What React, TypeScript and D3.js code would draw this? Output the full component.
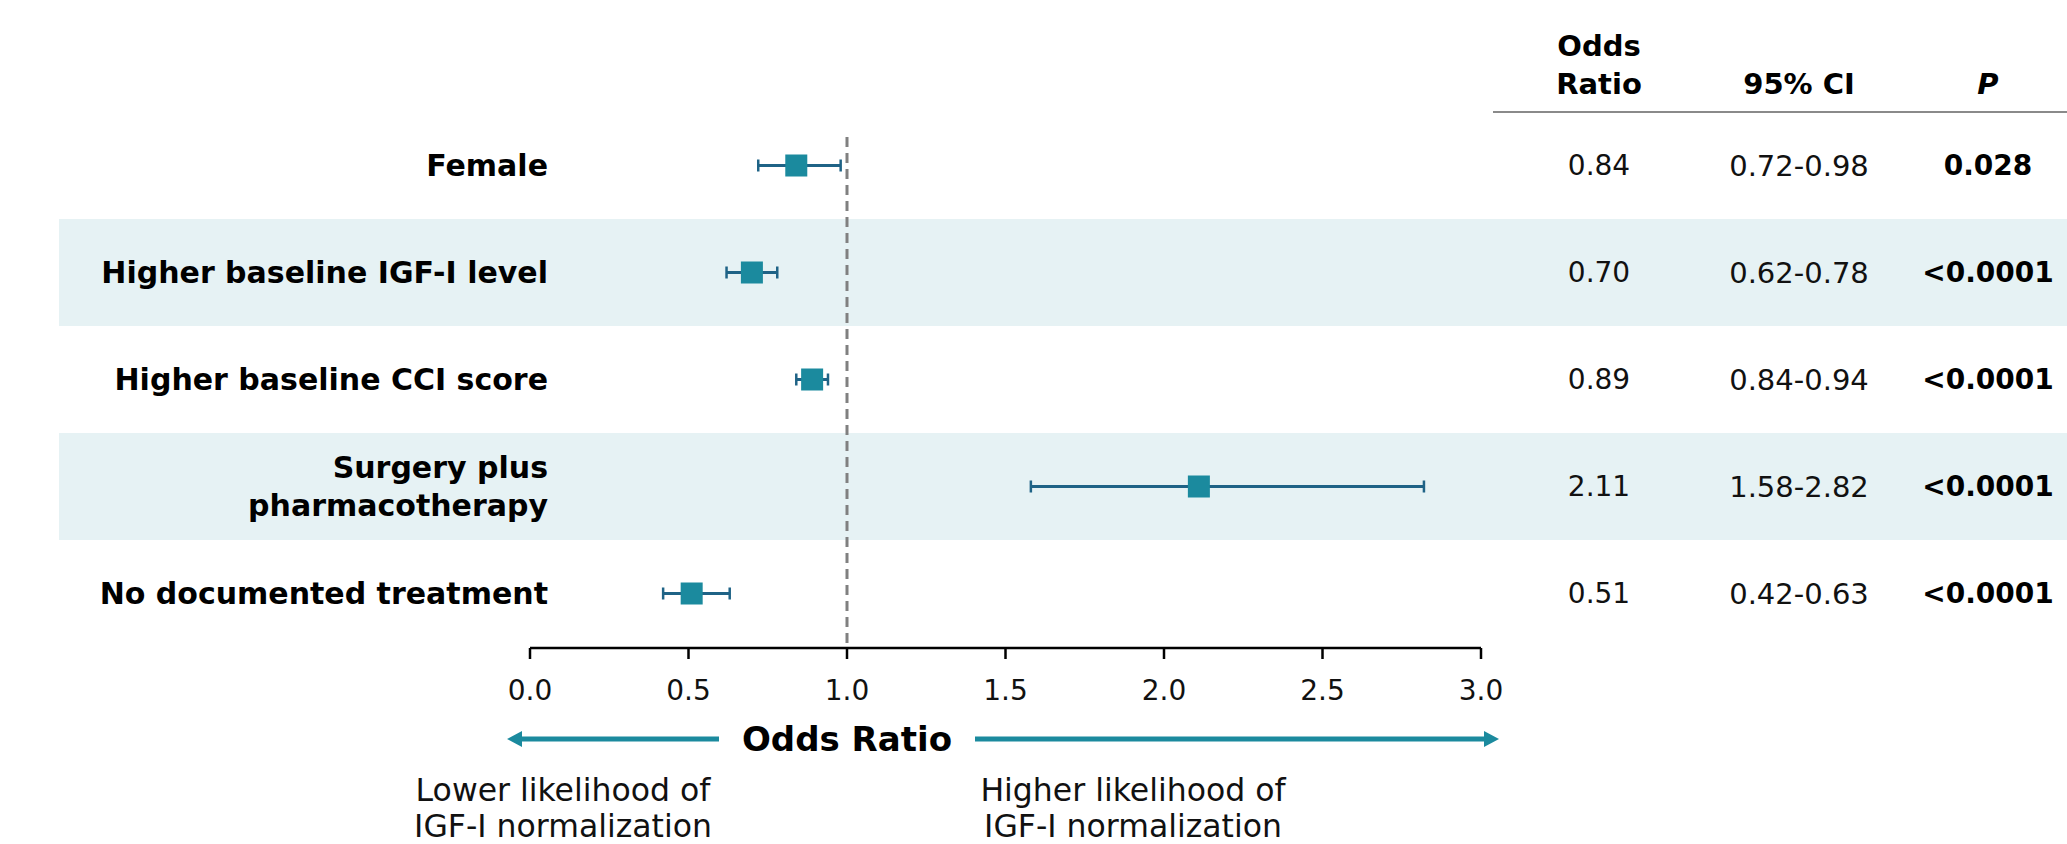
import React from "react";
import * as d3 from "d3";

const rowLabels: string[][] = [
  ["Female"],
  ["Higher baseline IGF-I level"],
  ["Higher baseline CCI score"],
  ["Surgery plus", "pharmacotherapy"],
  ["No documented treatment"],
];
const oddsRatios = [0.84, 0.7, 0.89, 2.11, 0.51];
const ciLower = [0.72, 0.62, 0.84, 1.58, 0.42];
const ciUpper = [0.98, 0.78, 0.94, 2.82, 0.63];
const orText = ["0.84", "0.70", "0.89", "2.11", "0.51"];
const ciText = ["0.72-0.98", "0.62-0.78", "0.84-0.94", "1.58-2.82", "0.42-0.63"];
const pText = ["0.028", "<0.0001", "<0.0001", "<0.0001", "<0.0001"];
const xTicks = [0, 0.5, 1, 1.5, 2, 2.5, 3];
const headers = [["Odds", "Ratio"], ["95% CI"], ["P"]];

const W = 2067;
const H = 844;
const FONT = "'DejaVu Sans', 'Open Sans', sans-serif";
const TEAL = "#1b8a9e";
const LINE = "#1f6386";
const BAND = "#e6f2f4";

export default function App() {
  const x = d3.scaleLinear().domain([0, 3]).range([530, 1481]);
  const y = d3
    .scaleBand<number>()
    .domain(rowLabels.map((_, i) => i))
    .range([112, 647]);
  const bw = y.bandwidth();
  const axisY = 648;
  const colX = [1599, 1799, 1988];
  const labelX = 548;
  const sq = 22;
  const cap = 12;

  const titleY = 739;
  const titleHalf = 128;
  const cx = x(1);
  const leftTip = x(0) - 23;
  const rightTip = x(3) + 18;
  const arrowW = 5;
  const headL = 15;
  const headH = 8;
  const leftArrow = `M${leftTip},${titleY} L${leftTip + headL},${titleY - headH} L${leftTip + headL},${titleY - arrowW / 2} L${cx - titleHalf},${titleY - arrowW / 2} L${cx - titleHalf},${titleY + arrowW / 2} L${leftTip + headL},${titleY + arrowW / 2} L${leftTip + headL},${titleY + headH} Z`;
  const rightArrow = `M${rightTip},${titleY} L${rightTip - headL},${titleY - headH} L${rightTip - headL},${titleY - arrowW / 2} L${cx + titleHalf},${titleY - arrowW / 2} L${cx + titleHalf},${titleY + arrowW / 2} L${rightTip - headL},${titleY + arrowW / 2} L${rightTip - headL},${titleY + headH} Z`;

  return (
    <svg
      width={W}
      height={H}
      style={{ position: "absolute", left: 0, top: 0, background: "#fff" }}
      fontFamily={FONT}
    >
      {rowLabels.map((_, i) =>
        i % 2 === 1 ? (
          <rect key={"b" + i} x={59} y={y(i)!} width={W - 59} height={bw} fill={BAND} />
        ) : null
      )}
      {headers.map((h, j) =>
        h.map((t, k) => (
          <text
            key={"h" + j + k}
            x={colX[j]}
            y={84 - (h.length - 1 - k) * 38}
            textAnchor="middle"
            dominantBaseline="central"
            fontWeight="bold"
            fontStyle={t === "P" ? "italic" : "normal"}
            fontSize={29}
            fill="#000"
          >
            {t}
          </text>
        ))
      )}
      <line x1={1493} x2={W} y1={112} y2={112} stroke="#8a8a8a" strokeWidth={2} />

      <line
        x1={x(1)}
        x2={x(1)}
        y1={137}
        y2={axisY}
        stroke="#808080"
        strokeWidth={3}
        strokeDasharray="10 6"
      />

      {rowLabels.map((lines, i) => {
        const cy = y(i)! + bw / 2;
        return (
          <g key={"r" + i}>
            {lines.map((t, k) => (
              <text
                key={k}
                x={labelX}
                y={cy + (k - (lines.length - 1) / 2) * 38}
                textAnchor="end"
                dominantBaseline="central"
                fontWeight="bold"
                fontSize={30}
                fill="#000"
              >
                {t}
              </text>
            ))}
            <line x1={x(ciLower[i])} x2={x(ciUpper[i])} y1={cy} y2={cy} stroke={LINE} strokeWidth={3} />
            <line x1={x(ciLower[i])} x2={x(ciLower[i])} y1={cy - cap / 2} y2={cy + cap / 2} stroke={LINE} strokeWidth={2.5} />
            <line x1={x(ciUpper[i])} x2={x(ciUpper[i])} y1={cy - cap / 2} y2={cy + cap / 2} stroke={LINE} strokeWidth={2.5} />
            <rect x={x(oddsRatios[i]) - sq / 2} y={cy - sq / 2} width={sq} height={sq} fill={TEAL} />
            <text x={colX[0]} y={cy} textAnchor="middle" dominantBaseline="central" fontSize={28} fill="#111">
              {orText[i]}
            </text>
            <text x={colX[1]} y={cy} textAnchor="middle" dominantBaseline="central" fontSize={29} fill="#111">
              {ciText[i]}
            </text>
            <text x={colX[2]} y={cy} textAnchor="middle" dominantBaseline="central" fontSize={28} fontWeight="bold" fill="#000">
              {pText[i]}
            </text>
          </g>
        );
      })}

      <line x1={x(0)} x2={x(3)} y1={axisY} y2={axisY} stroke="#000" strokeWidth={2.5} />
      {xTicks.map((t) => (
        <g key={"t" + t}>
          <line x1={x(t)} x2={x(t)} y1={axisY} y2={axisY + 11} stroke="#000" strokeWidth={2.5} />
          <text x={x(t)} y={690} textAnchor="middle" dominantBaseline="central" fontSize={28} fill="#111">
            {d3.format(".1f")(t)}
          </text>
        </g>
      ))}

      <path d={leftArrow} fill={TEAL} />
      <path d={rightArrow} fill={TEAL} />
      <text x={cx} y={titleY} textAnchor="middle" dominantBaseline="central" fontWeight="bold" fontSize={34} fill="#000">
        Odds Ratio
      </text>

      {[
        { cx: 563, lines: ["Lower likelihood of", "IGF-I normalization"] },
        { cx: 1133, lines: ["Higher likelihood of", "IGF-I normalization"] },
      ].map((n, j) =>
        n.lines.map((t, k) => (
          <text
            key={"n" + j + k}
            x={n.cx}
            y={790 + k * 36}
            textAnchor="middle"
            dominantBaseline="central"
            fontSize={31.5}
            fill="#111"
          >
            {t}
          </text>
        ))
      )}
    </svg>
  );
}
